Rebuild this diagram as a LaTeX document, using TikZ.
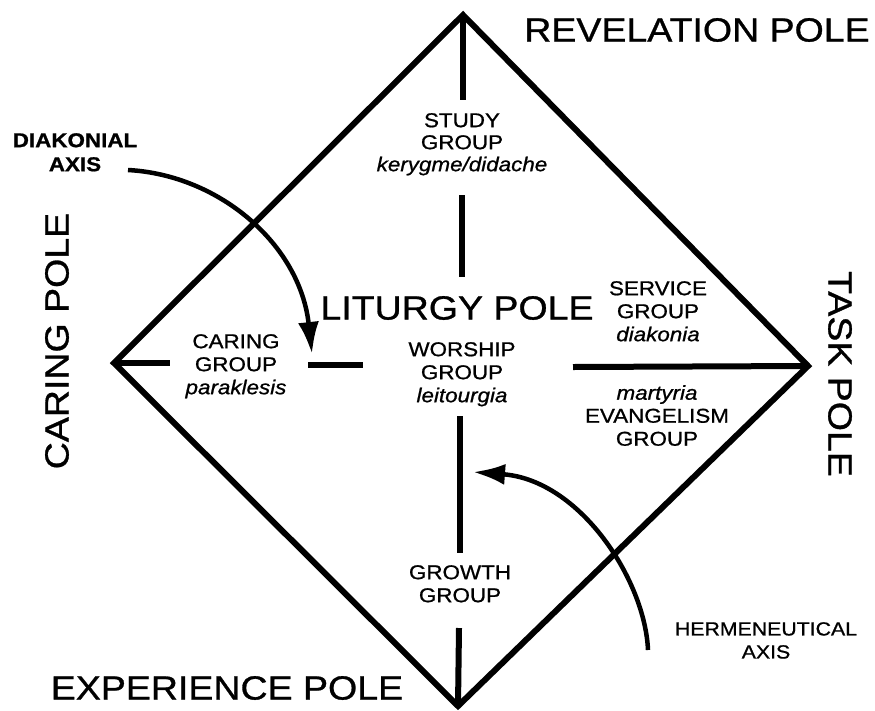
\documentclass[tikz,border=0pt]{standalone}
\usepackage{fontspec}
\setmainfont{Liberation Sans}[FakeStretch=1.12, FakeBold=0.9]
\usetikzlibrary{arrows.meta}
\tikzset{
  frame/.style={line width=6pt, line join=miter},
  divider/.style={line width=6pt},
  axisarrow/.style={line width=4.5pt, -{Latex[length=32pt,width=21pt]}},
  polelabel/.style={inner sep=0pt, font=\fontsize{33.5}{36}\selectfont},
  grouplabel/.style={inner sep=0pt, align=center, anchor=north, font=\fontsize{20}{23}\selectfont},
  axislabel/.style={inner sep=0pt, align=center, anchor=north},
}
\begin{document}
\begin{tikzpicture}[x=1pt,y=-1pt]
\useasboundingbox (0,0) rectangle (875,710);
% diamond vertices
\coordinate (T) at (463,15);
\coordinate (R) at (808,366);
\coordinate (B) at (458,706);
\coordinate (L) at (114,363);
\draw[frame] (T) -- (R) -- (B) -- (L) -- cycle;
% dividers
\coordinate (t1) at (463,100);
\coordinate (t2) at (462,195);
\coordinate (t3) at (462,277);
\coordinate (b1) at (460,416);
\coordinate (b2) at (460,553);
\coordinate (b3) at (459,628);
\coordinate (l1) at (170,363);
\coordinate (m1) at (308,365);
\coordinate (m2) at (363,365);
\coordinate (r1) at (573,367);
\draw[divider] (T) -- (t1);
\draw[divider] (t2) -- (t3);
\draw[divider] (b1) -- (b2);
\draw[divider] (b3) -- (B);
\draw[divider] (L) -- (l1);
\draw[divider] (m1) -- (m2);
\draw[divider] (r1) -- (R);
% pole labels
\node[polelabel] (rev) at (697,30) {REVELATION POLE};
\node[polelabel, rotate=90] (care) at (57,341) {CARING POLE};
\node[polelabel, rotate=-90] (task) at (840,374) {TASK POLE};
\node[polelabel] (exp) at (227,688) {EXPERIENCE POLE};
\node[polelabel] (lit) at (457,308) {LITURGY POLE};
% group labels
\node[grouplabel, font=\fontsize{20}{22}\selectfont] (study) at (462,113) {STUDY\\GROUP\\\textit{kerygme/didache}};
\node[grouplabel] (caring) at (236,334) {CARING\\GROUP\\\textit{paraklesis}};
\node[grouplabel] (worship) at (462,342) {WORSHIP\\GROUP\\\textit{leitourgia}};
\node[grouplabel] (service) at (658,281) {SERVICE\\GROUP\\\textit{diakonia}};
\node[grouplabel] (evang) at (657,385) {\textit{martyria}\\EVANGELISM\\GROUP};
\node[grouplabel] (growth) at (460,565) {GROWTH\\GROUP};
% axis labels
\node[axislabel, font=\bfseries\fontsize{20}{24}\selectfont] (diak) at (75,133) {DIAKONIAL\\AXIS};
\node[axislabel, font=\fontsize{19}{23}\selectfont] (herm) at (766,622) {HERMENEUTICAL\\AXIS};
% axis arrows
\coordinate (dstart) at (128,170);
\coordinate (dtip) at (312,354);
\draw[axisarrow] (dstart) .. controls (220,175) and (300,245) .. (dtip);
\coordinate (hstart) at (648,650);
\coordinate (htip) at (473,472);
\draw[axisarrow] (hstart) .. controls (645,580) and (580,480) .. (htip);
\end{tikzpicture}
\end{document}
